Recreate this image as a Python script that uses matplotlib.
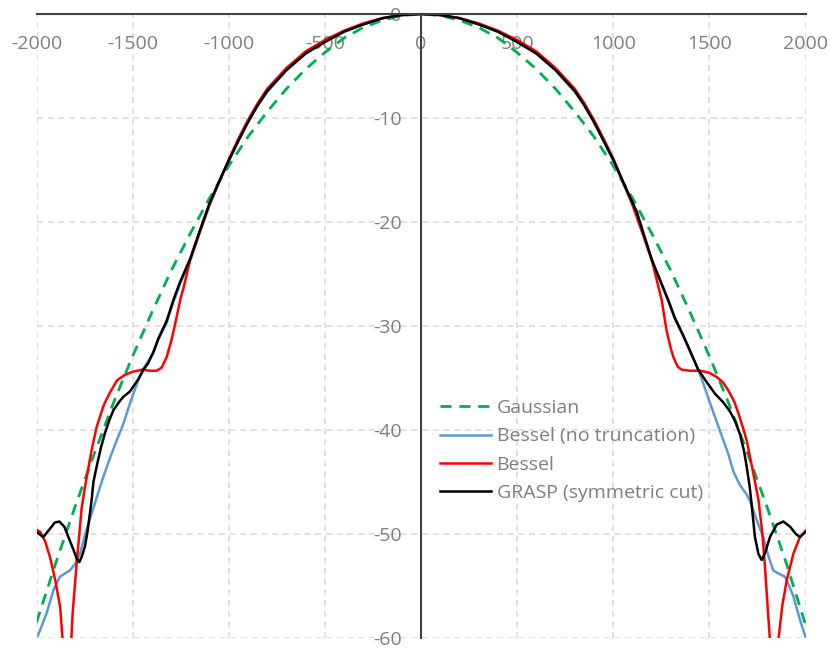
import matplotlib
matplotlib.use("Agg")
import matplotlib.pyplot as plt

plt.rcParams['font.family'] = ['Open Sans', 'DejaVu Sans']
plt.rcParams['axes.unicode_minus'] = False

# Gaussian (green dashed)
gauss_x = [-2000, -1900, -1800, -1700, -1600, -1500, -1400, -1300, -1200, -1100, -1000,
           -900, -800, -700, -600, -500, -400, -300, -200, -100, 0,
           100, 200, 300, 400, 500, 600, 700, 800, 900, 1000,
           1100, 1200, 1300, 1400, 1500, 1600, 1700, 1800, 1900, 2000]
gauss_y = [-58.5, -52.8, -47.4, -42.3, -37.4, -32.9, -28.7, -24.7, -21.1, -17.7, -14.6,
           -11.8, -9.4, -7.2, -5.3, -3.7, -2.3, -1.3, -0.6, -0.15, 0.0,
           -0.15, -0.6, -1.3, -2.3, -3.7, -5.3, -7.2, -9.4, -11.8, -14.6,
           -17.7, -21.1, -24.7, -28.7, -32.9, -37.4, -42.3, -47.4, -52.8, -58.7]

# Bessel (no truncation), blue
bnt_x = [-2000, -1991, -1947, -1912, -1878, -1826, -1800, -1774, -1740, -1704, -1675,
         -1652, -1620, -1583, -1550, -1522, -1496, -1470, -1444, -1420, -1392, -1366,
         -1323, -1288, -1254, -1200, -1150, -1100, -1050, -1000, -950, -900, -850, -800,
         -700, -600, -500, -400, -300, -200, -100, 0,
         100, 200, 300, 400, 500, 600, 700, 800, 850, 900, 950, 1000, 1050, 1100, 1150, 1200,
         1286, 1320, 1364, 1400, 1442, 1470, 1503, 1540, 1573, 1600, 1625, 1659,
         1694, 1711, 1745, 1780, 1805, 1832, 1860, 1893, 1915, 1937, 1972, 2000]
bnt_y = [-59.9, -59.7, -57.6, -55.4, -54.1, -53.5, -52.9, -51.9, -49.6, -47.5, -45.8,
         -44.5, -42.8, -41.0, -39.5, -37.9, -36.5, -35.2, -34.1, -33.4, -32.6, -31.3,
         -29.7, -27.7, -26.0, -23.7, -21.0, -18.4, -16.2, -14.1, -12.2, -10.4, -8.8, -7.5,
         -5.4, -3.8, -2.6, -1.7, -1.0, -0.4, -0.1, 0.0,
         -0.1, -0.4, -1.0, -1.7, -2.6, -3.8, -5.4, -7.5, -8.8, -10.4, -12.2, -14.1, -16.2, -18.4, -21.0, -23.7,
         -27.6, -29.3, -31.0, -32.5, -34.2, -35.6, -37.4, -39.3, -41.0, -42.4, -44.0, -45.3,
         -46.2, -46.8, -48.6, -50.3, -52.0, -53.5, -53.8, -54.1, -55.0, -56.0, -58.3, -59.9]

# Bessel, red
bes_x = [-2000, -1980, -1955, -1930, -1903, -1877, -1864, -1852, -1841, -1830, -1819,
         -1812, -1791, -1765, -1748, -1713, -1687, -1650, -1618, -1580, -1540, -1500,
         -1450, -1410, -1375, -1349, -1323, -1300, -1280, -1250, -1236, -1200, -1150,
         -1100, -1050, -1000, -950, -900, -850, -800, -700, -600, -500, -400, -300, -200, -100, 0,
         100, 200, 300, 400, 500, 600, 700, 800, 850, 900, 950, 1000, 1050, 1100, 1150, 1200,
         1252, 1278, 1300, 1313, 1335, 1356, 1400, 1451, 1500, 1538, 1570, 1599, 1630,
         1651, 1675, 1694, 1729, 1755, 1775, 1789, 1803, 1815, 1826, 1837, 1848, 1859,
         1880, 1903, 1937, 1971, 2000]
bes_y = [-49.6, -49.8, -50.7, -52.2, -54.4, -57.0, -60.2, -66.0, -72.0, -66.0, -60.2,
         -57.6, -52.8, -47.5, -45.5, -41.9, -39.7, -37.6, -36.4, -35.2, -34.7, -34.4,
         -34.2, -34.3, -34.3, -34.0, -33.0, -31.5, -29.9, -27.3, -26.4, -23.6, -20.9,
         -18.3, -16.1, -14.0, -12.0, -10.2, -8.6, -7.2, -5.2, -3.6, -2.5, -1.6, -0.9, -0.4, -0.1, 0.0,
         -0.1, -0.4, -0.9, -1.6, -2.5, -3.6, -5.2, -7.2, -8.6, -10.2, -12.0, -13.9, -16.1, -18.3, -20.9, -23.6,
         -27.5, -30.5, -32.2, -33.0, -33.9, -34.2, -34.3, -34.3, -34.5, -34.9, -35.4, -36.2, -37.3,
         -38.4, -39.8, -41.0, -44.2, -46.7, -49.8, -53.1, -57.0, -60.2, -66.0, -72.0, -66.0, -60.2,
         -56.8, -54.4, -51.9, -50.3, -49.7]

# GRASP (symmetric cut), black
grasp_x = [-2000, -1965, -1930, -1905, -1881, -1855, -1834, -1808, -1790, -1777, -1765,
           -1748, -1735, -1722, -1713, -1704, -1687, -1665, -1644, -1620, -1600, -1570,
           -1548, -1514, -1496, -1470, -1444, -1420, -1392, -1366, -1323, -1288, -1254,
           -1200, -1150, -1100, -1050, -1000, -950, -900, -850, -800, -700, -600, -500, -400,
           -300, -200, -100, 0,
           100, 200, 300, 400, 500, 600, 700, 800, 850, 900, 950, 1000, 1050, 1122, 1200,
           1286, 1320, 1364, 1400, 1442, 1490, 1529, 1570, 1607, 1635, 1659, 1680, 1694,
           1710, 1720, 1737, 1755, 1772, 1790, 1815, 1850, 1885, 1920, 1950, 1971, 2000]
grasp_y = [-49.8, -50.3, -49.5, -48.9, -48.8, -49.3, -50.3, -51.5, -52.4, -52.7, -52.2,
           -51.2, -49.8, -48.0, -46.7, -45.0, -43.5, -41.7, -40.3, -39.0, -38.1, -37.3,
           -36.8, -36.3, -35.8, -35.1, -34.2, -33.6, -32.5, -31.2, -29.5, -27.5, -25.8,
           -23.5, -20.8, -18.2, -16.1, -14.1, -12.2, -10.4, -8.8, -7.4, -5.4, -3.8, -2.7, -1.7,
           -1.0, -0.4, -0.1, 0.0,
           -0.1, -0.4, -1.0, -1.7, -2.7, -3.8, -5.4, -7.4, -8.8, -10.4, -12.2, -14.0, -16.1, -19.0, -23.6,
           -27.5, -29.2, -30.9, -32.4, -34.2, -35.5, -36.5, -37.3, -38.2, -39.2, -40.4, -42.0, -43.5,
           -45.5, -47.2, -50.3, -51.9, -52.5, -51.8, -50.3, -49.1, -48.8, -49.3, -50.0, -50.3, -49.8]

x_ticks = [-2000, -1500, -1000, -500, 0, 500, 1000, 1500, 2000]
y_ticks = [0, -10, -20, -30, -40, -50, -60]

fig = plt.figure(figsize=(8.3, 6.48), dpi=100)
ax = fig.add_axes([36.5 / 830, 10 / 648, 769 / 830, 624 / 648])

ax.plot(gauss_x, gauss_y, color='#00b050', lw=2.0, dashes=(4, 2.8), label='Gaussian')
ax.plot(bnt_x, bnt_y, color='#5b9bd5', lw=1.8, label='Bessel (no truncation)')
ax.plot(bes_x, bes_y, color='#ff0000', lw=1.8, label='Bessel')
ax.plot(grasp_x, grasp_y, color='#000000', lw=1.8, label='GRASP (symmetric cut)')

ax.set_xlim(-2000, 2000)
ax.set_ylim(-60, 0)
ax.set_xticks(x_ticks)
ax.set_yticks(y_ticks)

ax.grid(True, color='#d9d9d9', linestyle=(0, (4, 3)), lw=1.1)
ax.set_axisbelow(True)

for s in ['right', 'top']:
    ax.spines[s].set_visible(False)
ax.spines['bottom'].set_position(('data', 0))
ax.spines['left'].set_position(('data', 0))
for s in ['bottom', 'left']:
    ax.spines[s].set_color('#404040')
    ax.spines[s].set_linewidth(1.5)
    ax.spines[s].set_zorder(5)

ax.tick_params(axis='x', length=0, pad=15, labelsize=14, labelcolor='#7f7f7f')
ax.tick_params(axis='y', length=0, pad=14, labelsize=14, labelcolor='#7f7f7f')

leg = ax.legend(loc='upper left', bbox_to_anchor=(0.525, 0.383), frameon=False,
                fontsize=14, handlelength=2.6, handletextpad=0.3, labelspacing=0.53,
                borderpad=0, borderaxespad=0)
for t in leg.get_texts():
    t.set_color('#7f7f7f')

fig.savefig('out.png', dpi=100)
